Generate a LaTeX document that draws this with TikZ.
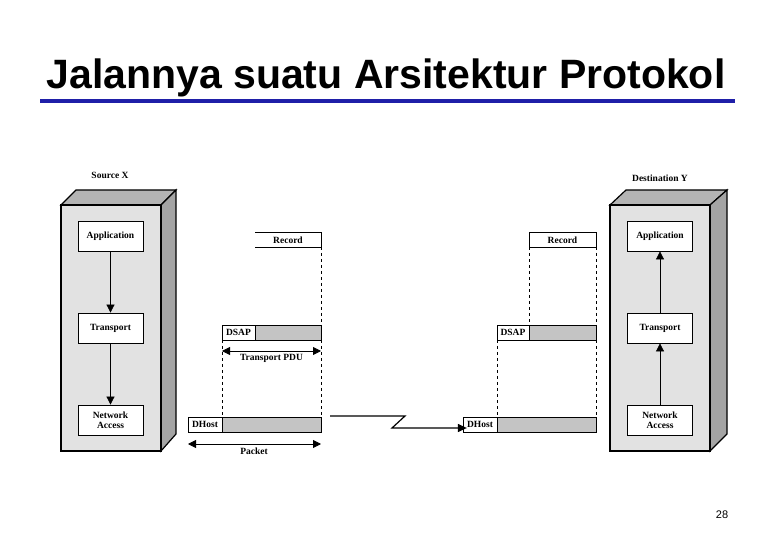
\documentclass[tikz,border=0pt]{standalone}
\usepackage{fontspec}
\setmainfont{Liberation Serif}
\newfontfamily\titlefont{Liberation Sans}
\usetikzlibrary{arrows.meta}
\definecolor{titleblue}{HTML}{1F1FA8}
\definecolor{faceg}{HTML}{E2E2E2}
\definecolor{topg}{HTML}{B4B4B4}
\definecolor{sideg}{HTML}{A4A4A4}
\definecolor{barg}{HTML}{C4C4C4}
\tikzset{
  lbl/.style={font=\bfseries\fontsize{9.5}{10}\selectfont, inner sep=0pt, align=center},
  layer/.style={draw, thick, fill=white, minimum width=65pt, minimum height=30pt, font=\bfseries\fontsize{9.5}{10}\selectfont, align=center, inner sep=0pt},
  flow/.style={-{Triangle[length=8pt,width=8pt]}, line width=0.7pt},
  dsh/.style={dashed, line width=0.6pt},
  dim/.style={{Triangle[length=8pt,width=8pt]}-{Triangle[length=8pt,width=8pt]}, line width=0.8pt},
  face/.style={fill=faceg, draw, line width=1.2pt},
  bar/.style={fill=barg, draw, line width=0.6pt},
  cell/.style={fill=white, draw, line width=0.6pt}
}
\begin{document}
\begin{tikzpicture}[x=1pt,y=-1pt]
\useasboundingbox (0,0) rectangle (780,540);
\node[font=\titlefont\bfseries\fontsize{41}{44}\selectfont, inner sep=0pt] (title) at (386,78) {Jalannya suatu Arsitektur Protokol};
\draw[titleblue, line width=4pt] (40,101) -- (735,101);
\node[font=\titlefont\fontsize{11}{12}\selectfont] (pg) at (722,515) {28};

% Source box
\draw[line width=1.2pt, fill=topg] (61,205) -- (76,190) -- (176,190) -- (161,205) -- cycle;
\draw[line width=1.2pt, fill=sideg] (161,205) -- (176,190) -- (176,434) -- (161,451) -- cycle;
\draw[face] (61,205) rectangle (161,451);
\node[lbl] (srcl) at (110,175) {Source X};
\node[layer] (sa) at (110.5,236) {Application};
\node[layer] (st) at (110.5,328) {Transport};
\node[layer] (sn) at (110.5,420) {Network\\Access};
\draw[flow] (sa) -- (st);
\draw[flow] (st) -- (sn);

% Destination box
\draw[line width=1.2pt, fill=topg] (610,205) -- (626,190) -- (727,190) -- (710,205) -- cycle;
\draw[line width=1.2pt, fill=sideg] (710,205) -- (727,190) -- (727,434) -- (710,451) -- cycle;
\draw[face] (610,205) rectangle (710,451);
\node[lbl] (dstl) at (660,178) {Destination Y};
\node[layer] (da) at (660,236) {Application};
\node[layer] (dt) at (660,328) {Transport};
\node[layer] (dn) at (660,420) {Network\\Access};
\draw[flow] (dn) -- (dt);
\draw[flow] (dt) -- (da);

% Left packet structure
\draw[line width=0.6pt] (255,232) -- (321,232) -- (321,247) -- (255,247);
\node[lbl] (lrec) at (288,240) {Record};
\draw[dsh] (321,247) -- (321,325);
\draw[bar] (222,325) rectangle (321,340);
\draw[cell] (222,325) rectangle (255,340);
\node[lbl] (ldsap) at (238.5,332.5) {DSAP};
\draw[dsh] (222,340) -- (222,417);
\draw[dsh] (321,340) -- (321,417);
\coordinate (pdul) at (222,351);
\coordinate (pdur) at (321,351);
\draw[dim] (pdul) -- (pdur);
\node[lbl, fill=white, inner sep=1.5pt] (lpdu) at (271.5,358) {Transport PDU};
\draw[bar] (188,417) rectangle (321,432);
\draw[cell] (188,417) rectangle (222,432);
\node[lbl] (ldh) at (205,424.5) {DHost};
\coordinate (pkl) at (188,444);
\coordinate (pkr) at (321,444);
\draw[dim] (pkl) -- (pkr);
\node[lbl] (lpk) at (254,451) {Packet};

% Right packet structure
\draw[cell] (529,232) rectangle (596,247);
\node[lbl] (rrec) at (562.5,240) {Record};
\draw[dsh] (529,247) -- (529,325);
\draw[dsh] (596,247) -- (596,325);
\draw[bar] (497,325) rectangle (596,340);
\draw[cell] (497,325) rectangle (529,340);
\node[lbl] (rdsap) at (513,332.5) {DSAP};
\draw[dsh] (497,340) -- (497,417);
\draw[dsh] (596,340) -- (596,417);
\draw[bar] (463,417) rectangle (596,432);
\draw[cell] (463,417) rectangle (497,432);
\node[lbl] (rdh) at (480,424.5) {DHost};

% link
\coordinate (ls) at (330,416);
\draw[line width=1.2pt, -{Triangle[length=9pt,width=8pt]}] (ls) -- (405,416) -- (392,428) -- (rdh.west |- 0,428);
\end{tikzpicture}
\end{document}
